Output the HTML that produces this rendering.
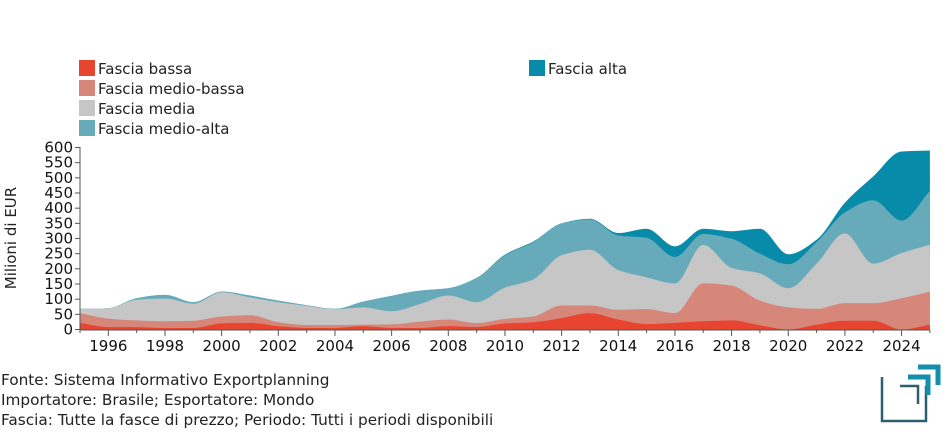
<!DOCTYPE html>
<html><head><meta charset="utf-8"><style>
body{margin:0;background:#fff;}
svg{display:block;font-family:"DejaVu Sans","Liberation Sans",sans-serif;}
</style></head><body>
<svg id="s" width="950" height="435" xmlns="http://www.w3.org/2000/svg">
<g id="areas"></g>
<g font-size="15" fill="#222">
<rect x="79" y="60" width="16" height="16" fill="#e84530"/><text x="98" y="74">Fascia bassa</text>
<rect x="79" y="80" width="16" height="16" fill="#d6877a"/><text x="98" y="94">Fascia medio-bassa</text>
<rect x="79" y="100" width="16" height="16" fill="#c6c6c6"/><text x="98" y="114">Fascia media</text>
<rect x="79" y="120" width="16" height="16" fill="#67aab9"/><text x="98" y="134">Fascia medio-alta</text>
<rect x="529" y="60" width="16" height="16" fill="#078ba8"/><text x="548" y="74">Fascia alta</text>
</g>
<g id="axes" font-size="15" fill="#111"></g>
<text transform="translate(16,238) rotate(-90)" text-anchor="middle" font-size="15" fill="#222">Milioni di EUR</text>
<g font-size="15.3" fill="#222">
<text x="1" y="385">Fonte: Sistema Informativo Exportplanning</text>
<text x="1" y="405">Importatore: Brasile; Esportatore: Mondo</text>
<text x="1" y="425">Fascia: Tutte la fasce di prezzo; Periodo: Tutti i periodi disponibili</text>
</g>
<g fill="none" stroke-width="2.5">
<polyline points="882,377 882,421 926,421 926,386" stroke="#2d5f72"/>
<polyline points="900,386 918,386 918,404" stroke="#2d5f72"/>
<polyline points="908,377 928,377 928,395" stroke="#148fab" stroke-width="5"/>
<polyline points="918,367 938,367 938,385" stroke="#148fab" stroke-width="5"/>
</g>
</svg>
<script>
var yrs=[];for(var y=1995;y<=2025;y++)yrs.push(y);
var cum=[
[22,8,8,5,5,20,22,11,5,5,11,5,5,11,8,20,24,38,54,33,18,22,27,30,14,0,16,29,29,0,16],
[54,36,30,27,29,43,47,24,15,15,16,17,26,33,21,35,43,79,79,65,67,54,152,145,95,73,68,87,87,103,125],
[68,70,98,102,85,123,106,90,78,67,73,60,84,112,90,138,165,245,263,196,172,152,279,203,185,136,217,317,217,252,280],
[68,70,103,114,90,125,112,95,80,68,92,111,128,136,170,245,288,350,363,310,302,239,315,299,250,215,288,386,426,359,457],
[68,70,103,114,90,125,112,95,80,68,92,111,128,136,170,247,290,350,365,318,332,274,332,324,332,248,296,418,505,587,590]];
var cols=["#e84530","#d6877a","#c6c6c6","#67aab9","#078ba8"];
function X(y){return 80+(y-1995)*28.33;}
function Y(v){return 329.5-v*0.30333;}
function mono(xs,ys){var n=xs.length,d=[],m=[];for(var i=0;i<n-1;i++)d.push((ys[i+1]-ys[i])/(xs[i+1]-xs[i]));
m[0]=d[0];m[n-1]=d[n-2];for(i=1;i<n-1;i++){if(d[i-1]*d[i]<=0)m[i]=0;else{var h0=xs[i]-xs[i-1],h1=xs[i+1]-xs[i];m[i]=3*(h0+h1)/((2*h1+h0)/d[i-1]+(h1+2*h0)/d[i]);}}
var s="";for(i=0;i<n-1;i++){var h=(xs[i+1]-xs[i])/3;s+=" C"+(xs[i]+h)+","+(ys[i]+m[i]*h)+" "+(xs[i+1]-h)+","+(ys[i+1]-m[i+1]*h)+" "+xs[i+1]+","+ys[i+1];}return s;}
var xs=yrs.map(X),g=document.getElementById("areas"),NS="http://www.w3.org/2000/svg";
for(var k=4;k>=0;k--){var ys=cum[k].map(Y);var p=document.createElementNS(NS,"path");
p.setAttribute("d","M"+xs[0]+","+ys[0]+mono(xs,ys)+" L930,329.5 L80,329.5 Z");p.setAttribute("fill",cols[k]);g.appendChild(p);}
var a=document.getElementById("axes"),h='<line x1="80" y1="147" x2="80" y2="330" stroke="#555"/><line x1="80" y1="330" x2="930" y2="330" stroke="#555"/>';
for(var v=0;v<=600;v+=50){var yy=Y(v);h+='<line x1="75" y1="'+yy+'" x2="80" y2="'+yy+'" stroke="#555"/><text x="73" y="'+(yy+5)+'" text-anchor="end">'+v+'</text>';}
for(var y=1995;y<=2025;y++){var xx=X(y);h+='<line x1="'+xx+'" y1="330" x2="'+xx+'" y2="'+(y%2==0?336:333)+'" stroke="#555"/>';if(y%2==0)h+='<text x="'+xx+'" y="351" text-anchor="middle">'+y+'</text>';}
a.innerHTML=h;
</script>
</body></html>
